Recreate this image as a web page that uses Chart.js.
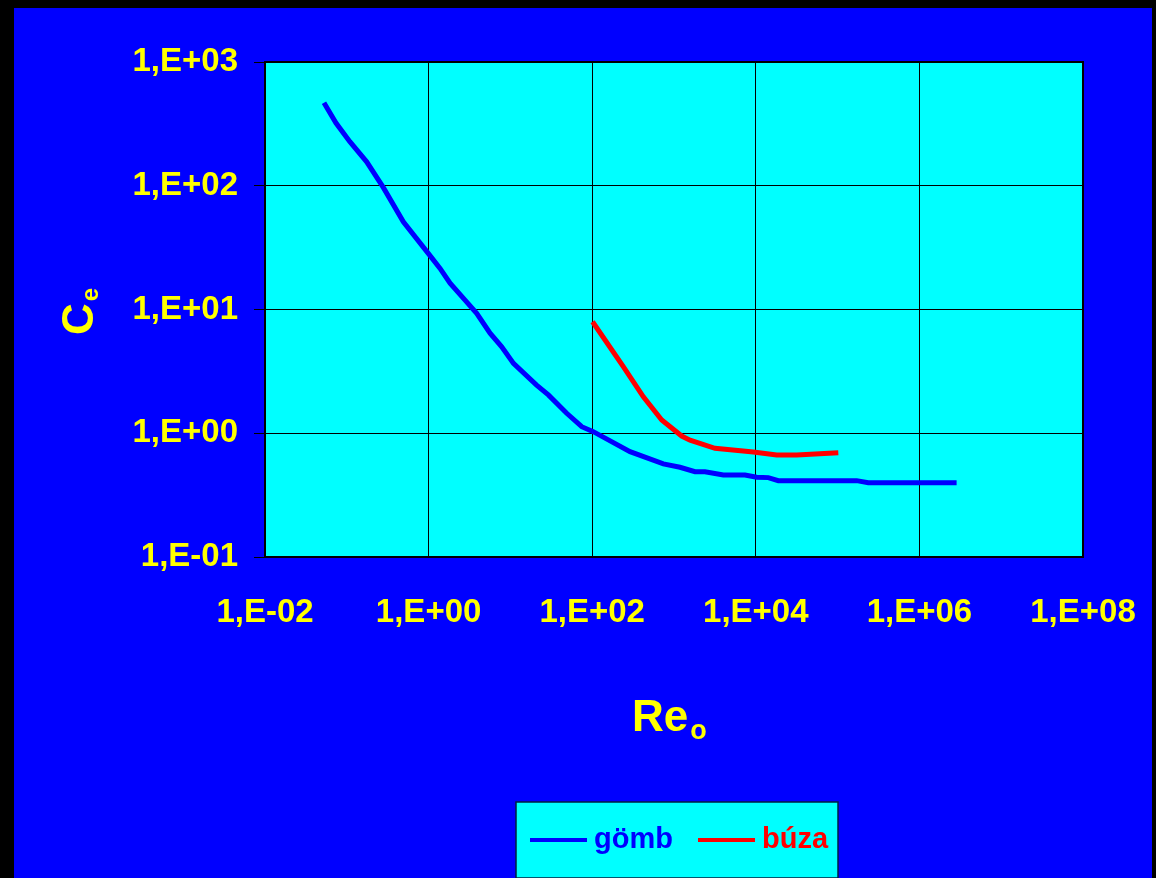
<!DOCTYPE html>
<html>
<head>
<meta charset="utf-8">
<script src="https://cdn.jsdelivr.net/npm/chart.js@4"></script>
<style>
  html, body { margin: 0; padding: 0; background: #000; }
  #wrap { width: 1156px; height: 878px; }
</style>
</head>
<body>
<div id="wrap"><canvas id="myChart"></canvas></div>
<script>
// Reynolds number and drag coefficient
const gombRe = [0.0526, 0.0738, 0.109, 0.175, 0.279, 0.491, 0.99, 1.38, 1.83, 2.79, 3.87, 5.64, 7.83, 10.9, 20.9, 29.1, 48.8, 74.5, 103, 290, 741, 1183, 1807, 2393, 4009, 7379, 10257, 14223, 18836, 171000, 237000, 2850000];
const gombCe = [469, 321, 227, 156, 97, 51.2, 28.4, 21.5, 16.3, 11.9, 9.31, 6.43, 5.0, 3.67, 2.45, 2.04, 1.45, 1.13, 1.03, 0.71, 0.565, 0.531, 0.489, 0.489, 0.46, 0.46, 0.441, 0.438, 0.414, 0.414, 0.399, 0.399];
const buzaRe = [101, 240, 422, 708, 1242, 1570, 3170, 9330, 17990, 31600, 102000];
const buzaCe = [7.96, 3.45, 1.97, 1.28, 0.95, 0.88, 0.755, 0.705, 0.667, 0.667, 0.697];
const seriesNames = ['gömb', 'búza'];

// tick values
const xTicks = [1e-2, 1e0, 1e2, 1e4, 1e6, 1e8];
const yTicks = [1e-1, 1e0, 1e1, 1e2, 1e3];

const FONT = '"Liberation Sans", Arial, sans-serif';
const YELLOW = '#FFFF00';

// 1000 -> "1,E+03"
function sciLabel(v) {
  const e = Math.round(Math.log10(v));
  const s = e < 0 ? '-' : '+';
  return '1,E' + s + String(Math.abs(e)).padStart(2, '0');
}

function toPoints(xs, ys) {
  return xs.map((x, i) => ({ x: x, y: ys[i] }));
}

// keep the layout from reserving extra room for overhanging labels
function noScalePadding(s) {
  s.paddingLeft = 0;
  s.paddingRight = 0;
  s.paddingTop = 0;
  s.paddingBottom = 0;
}

// backgrounds: black frame, blue page, cyan plot area
const backgroundPlugin = {
  id: 'backgrounds',
  beforeDraw(chart) {
    const ctx = chart.ctx;
    const a = chart.chartArea;
    ctx.save();
    ctx.fillStyle = '#000';
    ctx.fillRect(0, 0, chart.width, chart.height);
    ctx.fillStyle = '#0000FF';
    ctx.fillRect(14, 8, 1138, chart.height - 8);
    ctx.fillStyle = '#00FFFF';
    ctx.fillRect(a.left, a.top, a.right - a.left, a.bottom - a.top);
    ctx.restore();
  }
};

// plot border, axis titles with subscripts and the boxed legend
const extrasPlugin = {
  id: 'extras',
  afterDatasetsDraw(chart) {
    const ctx = chart.ctx;
    const a = chart.chartArea;
    ctx.save();
    ctx.strokeStyle = '#000';
    ctx.lineWidth = 2;
    ctx.strokeRect(a.left, a.top, a.right - a.left, a.bottom - a.top);
    ctx.restore();
  },
  afterDraw(chart) {
    const ctx = chart.ctx;
    ctx.save();
    ctx.fillStyle = YELLOW;
    ctx.textBaseline = 'alphabetic';
    ctx.textAlign = 'left';

    // x title: Re with subscript o
    ctx.font = 'bold 44px ' + FONT;
    ctx.fillText('Re', 632, 731);
    const reW = ctx.measureText('Re').width;
    ctx.font = 'bold 27px ' + FONT;
    ctx.fillText('o', 632 + reW + 2, 739);

    // y title: C with subscript e, rotated
    ctx.save();
    ctx.translate(93, 335);
    ctx.rotate(-Math.PI / 2);
    ctx.font = 'bold 44px ' + FONT;
    ctx.fillText('C', 0, 0);
    const cW = ctx.measureText('C').width;
    ctx.font = 'bold 24px ' + FONT;
    ctx.fillText('e', cW + 2, 5);
    ctx.restore();

    // legend box
    ctx.fillStyle = '#00FFFF';
    ctx.fillRect(516, 802, 322, 76);
    ctx.strokeStyle = '#002040';
    ctx.lineWidth = 1.5;
    ctx.strokeRect(516, 802, 322, 76);

    const itemX = [530, 698];
    chart.data.datasets.forEach((ds, i) => {
      const x0 = itemX[i];
      ctx.strokeStyle = ds.borderColor;
      ctx.lineWidth = 4;
      ctx.beginPath();
      ctx.moveTo(x0, 840);
      ctx.lineTo(x0 + 57, 840);
      ctx.stroke();
      ctx.fillStyle = ds.borderColor;
      ctx.font = 'bold 29px ' + FONT;
      ctx.fillText(ds.label, x0 + 64, 848);
    });
    ctx.restore();
  }
};

const ctx = document.getElementById('myChart');
new Chart(ctx, {
  type: 'line',
  data: {
    datasets: [{
      label: seriesNames[0],
      data: toPoints(gombRe, gombCe),
      borderColor: '#0000FF',
      borderWidth: 5,
      pointRadius: 0,
      tension: 0
    }, {
      label: seriesNames[1],
      data: toPoints(buzaRe, buzaCe),
      borderColor: '#FF0000',
      borderWidth: 5,
      pointRadius: 0,
      tension: 0
    }]
  },
  options: {
    responsive: true,
    maintainAspectRatio: false,
    animation: false,
    layout: {
      padding: { left: 0, top: 62, right: 73, bottom: 0 }
    },
    plugins: {
      legend: { display: false },
      tooltip: { enabled: false }
    },
    scales: {
      x: {
        type: 'logarithmic',
        min: 1e-2,
        max: 1e8,
        afterBuildTicks: (s) => { s.ticks = xTicks.map(v => ({ value: v })); },
        afterFit: (s) => { s.height = 878 - 557; noScalePadding(s); },
        grid: { color: '#000', lineWidth: 1, drawTicks: false },
        border: { display: false },
        ticks: {
          color: YELLOW,
          padding: 36,
          maxRotation: 0,
          autoSkip: false,
          font: { family: FONT, size: 33, weight: 'bold' },
          callback: (v) => sciLabel(v)
        }
      },
      y: {
        type: 'logarithmic',
        min: 1e-1,
        max: 1e3,
        afterBuildTicks: (s) => { s.ticks = yTicks.map(v => ({ value: v })); },
        afterFit: (s) => { s.width = 265; noScalePadding(s); },
        grid: { color: '#000', lineWidth: 1, drawTicks: true, tickLength: 11 },
        border: { display: false },
        ticks: {
          color: YELLOW,
          padding: 16,
          autoSkip: false,
          font: { family: FONT, size: 33, weight: 'bold' },
          callback: (v) => sciLabel(v)
        }
      }
    }
  },
  plugins: [backgroundPlugin, extrasPlugin]
});
</script>
</body>
</html>
